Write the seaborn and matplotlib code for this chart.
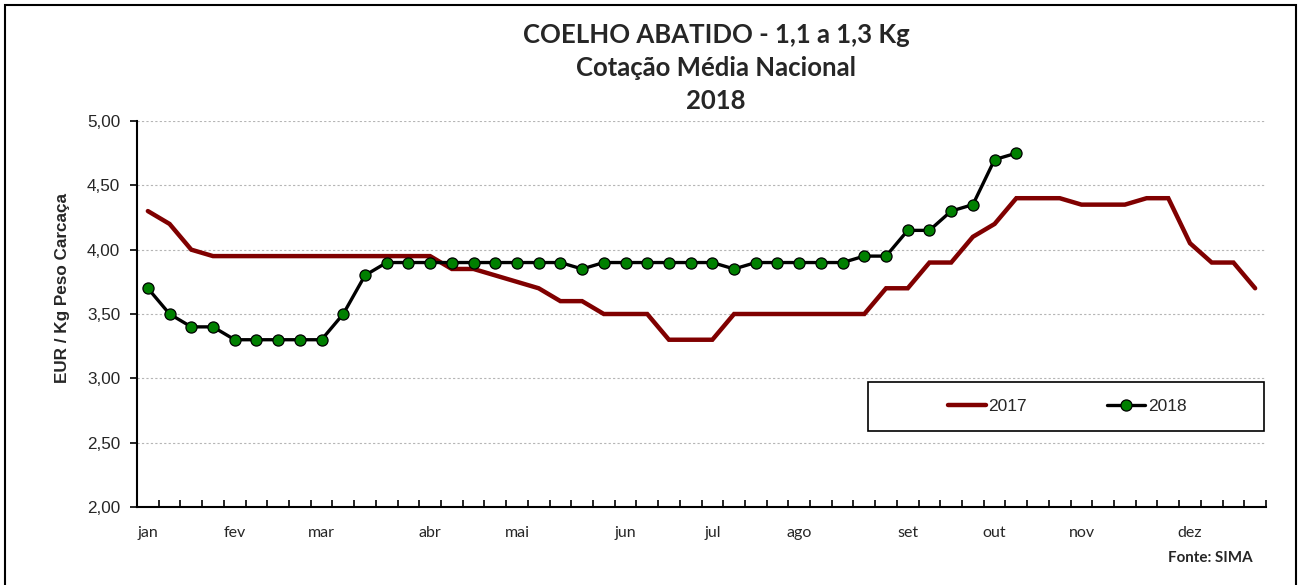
import matplotlib
matplotlib.use("Agg")
import matplotlib.pyplot as plt
import matplotlib.patches as mpatches
from matplotlib.lines import Line2D
import numpy as np
import pandas as pd
import seaborn as sns

# ---------------- data ----------------
weeks_2017 = list(range(52))
price_2017 = [4.30, 4.20, 4.00, 3.95, 3.95, 3.95, 3.95, 3.95, 3.95, 3.95,
              3.95, 3.95, 3.95, 3.95, 3.85, 3.85, 3.80, 3.75, 3.70, 3.60,
              3.60, 3.50, 3.50, 3.50, 3.30, 3.30, 3.30, 3.50, 3.50, 3.50,
              3.50, 3.50, 3.50, 3.50, 3.70, 3.70, 3.90, 3.90, 4.10, 4.20,
              4.40, 4.40, 4.40, 4.35, 4.35, 4.35, 4.40, 4.40, 4.05, 3.90,
              3.90, 3.70]
weeks_2018 = list(range(41))
price_2018 = [3.70, 3.50, 3.40, 3.40, 3.30, 3.30, 3.30, 3.30, 3.30, 3.50,
              3.80, 3.90, 3.90, 3.90, 3.90, 3.90, 3.90, 3.90, 3.90, 3.90,
              3.85, 3.90, 3.90, 3.90, 3.90, 3.90, 3.90, 3.85, 3.90, 3.90,
              3.90, 3.90, 3.90, 3.95, 3.95, 4.15, 4.15, 4.30, 4.35, 4.70,
              4.75]
month_labels = ["jan", "fev", "mar", "abr", "mai", "jun",
                "jul", "ago", "set", "out", "nov", "dez"]
month_weeks = [0, 4, 8, 13, 17, 22, 26, 30, 35, 39, 43, 48]
y_ticks = [2.0, 2.5, 3.0, 3.5, 4.0, 4.5, 5.0]
y_labels = ["2,00", "2,50", "3,00", "3,50", "4,00", "4,50", "5,00"]
series_names = ["2017", "2018"]
title_lines = ["COELHO ABATIDO - 1,1 a 1,3 Kg", "Cotação Média Nacional", "2018"]
y_title = "EUR / Kg Peso Carcaça"
source = "Fonte: SIMA"

# ---------------- figure ----------------
sns.set_style("white")
plt.rcParams['font.family'] = ['Liberation Sans', 'DejaVu Sans']

W, H = 1298, 585
fig = plt.figure(figsize=(W / 100, H / 100), dpi=100)
fig.patch.set_facecolor("white")

# outer border
fig.patches.append(mpatches.Rectangle((5 / W, -0.02), (1296 - 5) / W, 1.02 - 5 / H,
                                      transform=fig.transFigure, fill=False,
                                      edgecolor="black", linewidth=1.5, zorder=0))

L, R, T, B = 137, 1266, 121, 507
ax = fig.add_axes([L / W, (H - B) / H, (R - L) / W, (B - T) / H])

df17 = pd.DataFrame({"week": weeks_2017, "price": price_2017})
df18 = pd.DataFrame({"week": weeks_2018, "price": price_2018})

sns.lineplot(data=df17, x="week", y="price", ax=ax, color="#800000",
             linewidth=3.2, solid_joinstyle="miter", zorder=3, label=None)
sns.lineplot(data=df18, x="week", y="price", ax=ax, color="black",
             linewidth=2.4, marker="o", markersize=8, markerfacecolor="#008000",
             markeredgecolor="black", markeredgewidth=0.9, zorder=4, label=None)

ax.set_xlim(-0.5, 51.5)
ax.set_ylim(2.0, 5.0)

# y axis
ax.set_yticks(y_ticks)
ax.set_yticklabels(y_labels, fontsize=12.3, fontfamily="Liberation Sans")
ax.tick_params(axis="y", direction="out", length=5, width=1.2, color="black",
               left=True, pad=7)
ax.yaxis.grid(True, color="#b5b5b5", linestyle=(0, (2, 2)), linewidth=0.8)
ax.xaxis.grid(False)

# x axis: category boundaries as minor ticks, month labels as majors
ax.set_xticks(month_weeks)
ax.set_xticklabels(month_labels, fontsize=11.5, fontfamily="Lato")
ax.set_xticks(np.arange(-0.5, 52, 1.0), minor=True)
ax.tick_params(axis="x", which="major", length=0, pad=14)
ax.tick_params(axis="x", which="minor", direction="in", length=5, width=1.2,
               color="black", bottom=True)

for s in ["top", "right"]:
    ax.spines[s].set_visible(False)
for s in ["left", "bottom"]:
    ax.spines[s].set_color("black")
    ax.spines[s].set_linewidth(1.5)

ax.set_xlabel("")
ax.set_ylabel("")

# titles
for i, line in enumerate(title_lines):
    fig.text(716 / W, 1 - (35 + 33 * i) / H, line, ha="center", va="center",
             fontsize=18.5, fontweight="bold", fontfamily="Lato")

fig.text(62 / W, 1 - 288 / H, y_title, rotation=90, ha="center", va="center",
         fontsize=12.3, fontweight="bold", fontfamily="Liberation Sans")

fig.text(1253 / W, 1 - 558 / H, source, ha="right", va="center",
         fontsize=10.9, fontweight="bold", fontfamily="Lato")

# legend box
fig.patches.append(mpatches.Rectangle((868 / W, 1 - 431 / H), (1264 - 868) / W,
                                      (431 - 382) / H, transform=fig.transFigure,
                                      fill=True, facecolor="white",
                                      edgecolor="black", linewidth=1.2, zorder=5))
handles = [Line2D([], [], color="#800000", linewidth=3.2),
           Line2D([], [], color="black", linewidth=2.4, marker="o", markersize=8,
                  markerfacecolor="#008000", markeredgecolor="black",
                  markeredgewidth=0.9)]
leg = fig.legend(handles, series_names, loc="center",
                 bbox_to_anchor=(1067 / W, 1 - 406.5 / H), ncol=2, frameon=False,
                 handlelength=2.2, handletextpad=0.15, columnspacing=4.6,
                 prop={"family": "Liberation Sans", "size": 12.5})
leg.set_zorder(6)

fig.savefig("out.png", dpi=100, facecolor="white")
